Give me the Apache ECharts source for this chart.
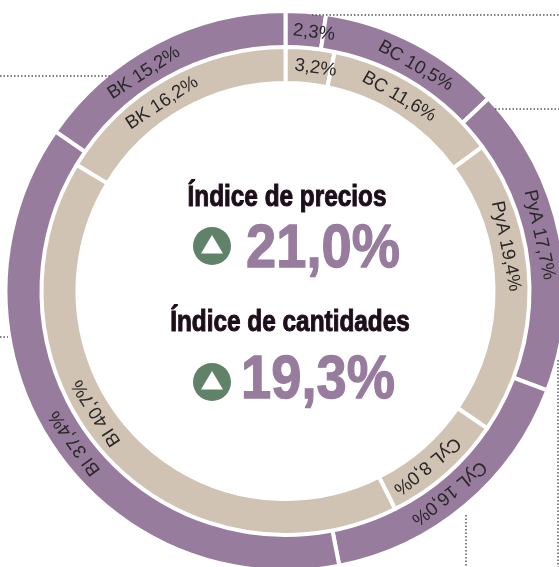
<!DOCTYPE html>
<html>
<head>
<meta charset="utf-8">
<style>
html, body { margin: 0; padding: 0; background: #fff; overflow: hidden; }
#chart { width: 559px; height: 567px; }
</style>
<script src="https://cdn.jsdelivr.net/npm/echarts@6/dist/echarts.min.js"></script>
</head>
<body>
<div id="chart"></div>
<script>
// datos
const categories = ['', 'BC', 'PyA', 'CyL', 'BI', 'BK'];
const outerValues = [2.3, 10.5, 17.7, 16.0, 37.4, 15.2];
const innerValues = [3.2, 11.6, 19.4, 8.0, 40.7, 16.2];
const priceIndex = '21,0%';
const quantityIndex = '19,3%';

// las etiquetas no siempre caen en el centro del sector (grados desde arriba, sentido horario)
const outerLabelAngles = [6.3, 30, 77.5, 141, 234.2, 327];
const innerLabelAngles = [7.7, 30.3, 78.5, 141, 237.2, 326.7];

const CX = 285.5;
const CY = 291;
const PURPLE = '#977c9e';
const BEIGE = '#d0c3b3';
const GREEN = '#5f8268';
const HEAD = '#1d0f1a';

const chart = echarts.init(document.getElementById('chart'));

function labelText(i, v) {
    const txt = v.toFixed(1).replace('.', ',') + '%';
    return categories[i] ? categories[i] + ' ' + txt : txt;
}

function ring(values, color, radius, labelR, angles) {
    return {
        type: 'pie',
        center: [CX, CY],
        radius: radius,
        startAngle: 90,
        clockwise: true,
        silent: true,
        animation: false,
        avoidLabelOverlap: false,
        itemStyle: { color: color, borderColor: '#fff', borderWidth: 4 },
        label: {
            show: true,
            position: 'inside',
            color: '#2b2729',
            fontFamily: 'Liberation Sans',
            fontSize: 18.5,
            formatter: p => labelText(p.dataIndex, p.value)
        },
        labelLine: { show: false },
        labelLayout: p => {
            const a = angles[p.dataIndex] * Math.PI / 180;
            return {
                x: CX + labelR * Math.sin(a),
                y: CY - labelR * Math.cos(a),
                rotate: -angles[p.dataIndex],
                align: 'center',
                verticalAlign: 'middle'
            };
        },
        data: values.map((v, i) => ({ name: categories[i] || 'Otros', value: v }))
    };
}

function dotted(x1, y1, x2, y2) {
    return {
        type: 'line',
        silent: true,
        z: 10,
        shape: { x1, y1, x2, y2 },
        style: { stroke: '#555', lineWidth: 1.5, lineDash: [1.5, 2] }
    };
}

function upIcon(x, y) {
    return [
        { type: 'circle', silent: true, z: 10, shape: { cx: x, cy: y, r: 19 }, style: { fill: GREEN } },
        { type: 'polygon', silent: true, z: 11, shape: { points: [[x, y - 11], [x + 11, y + 7.5], [x - 11, y + 7.5]] }, style: { fill: '#fff' } }
    ];
}

function bigText(text, x, y, size, color, sx, weight) {
    return {
        type: 'text',
        silent: true,
        z: 10,
        x: x,
        y: y,
        scaleX: sx,
        style: {
            text: text,
            fill: color,
            stroke: color,
            lineWidth: weight,
            font: 'bold ' + size + 'px "Liberation Sans"',
            align: 'center',
            verticalAlign: 'middle'
        }
    };
}

chart.setOption({
    backgroundColor: '#fff',
    series: [
        ring(outerValues, PURPLE, [243, 280], 260, outerLabelAngles),
        ring(innerValues, BEIGE, [208, 244], 225, innerLabelAngles)
    ],
    graphic: [
        dotted(312, 15, 559, 15),
        dotted(0, 76, 112, 76),
        dotted(0, 337, 8, 337),
        dotted(495, 109, 559, 109),
        dotted(558, 360, 558, 567),
        dotted(466, 515, 466, 567),
        bigText('Índice de precios', 287, 198, 29, HEAD, 0.84, 1),
        bigText(priceIndex, 323, 250, 62, PURPLE, 0.875, 1.3),
        bigText('Índice de cantidades', 290, 323, 29, HEAD, 0.84, 1),
        bigText(quantityIndex, 318, 381, 62, PURPLE, 0.875, 1.3),
        ...upIcon(212, 246),
        ...upIcon(212, 382)
    ]
});
window.addEventListener('resize', () => chart.resize());
</script>
</body>
</html>
